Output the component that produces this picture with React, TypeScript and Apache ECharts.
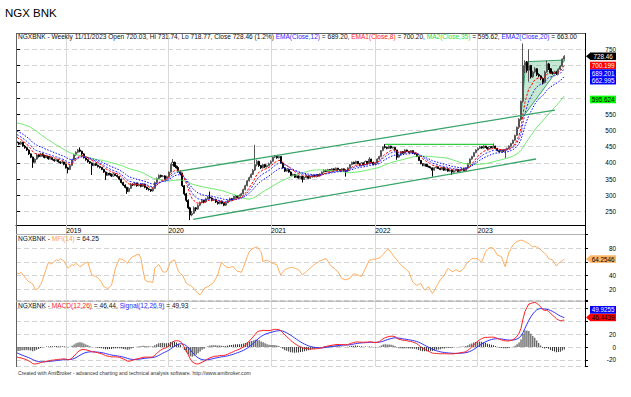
import React, { useEffect, useRef } from "react";
import * as echarts from "echarts";

const FONT = "'Liberation Sans', Arial, sans-serif";
const TITLE = "NGX BNK";
const TICKER = "NGXBNK";
const FIRST_BAR_UTC = Date.UTC(2018, 6, 13);
const RIGHT_PAD_BARS = 10;

// weekly closes before the first visible bar (warm-up for the averages)
const priorCloses = [470, 478, 485, 492, 495, 502, 498, 508, 505, 512, 510, 518, 522, 540, 562, 578, 585, 590, 575, 568, 562, 558, 552, 548, 540, 534, 538, 528, 520, 515, 508, 498, 502, 492, 485, 488, 478, 482, 472, 470];

// weekly bars [open, high, low, close]
const bars2018 = [
  [465, 468, 458, 462], [462, 465, 455, 458], [458, 467, 456, 464], [464, 465, 450, 452], [452, 455, 444, 447],
  [447, 449, 437, 440], [440, 442, 425, 428], [428, 430, 415, 418], [418, 420, 385, 402], [402, 414, 399, 412],
  [412, 428, 410, 425], [425, 427, 417, 420], [420, 431, 418, 428], [428, 430, 420, 423], [423, 425, 414, 417],
  [417, 423, 415, 420], [420, 421, 410, 413], [413, 418, 411, 416], [416, 417, 408, 411], [411, 412, 404, 407],
  [407, 413, 405, 410], [410, 411, 401, 404], [404, 405, 397, 400], [400, 406, 398, 403], [403, 404, 393, 396],
];
const bars2019 = [
  [396, 398, 383, 385], [385, 388, 368, 380], [380, 394, 378, 392], [392, 412, 390, 410], [410, 427, 408, 425],
  [425, 436, 422, 433], [433, 443, 430, 440], [440, 448, 433, 436], [436, 438, 425, 428], [428, 430, 414, 416],
  [416, 418, 407, 410], [410, 412, 401, 404], [404, 406, 397, 400], [400, 402, 363, 392], [392, 401, 390, 398],
  [398, 400, 391, 393], [393, 395, 386, 389], [389, 391, 383, 386], [386, 388, 378, 380], [380, 382, 370, 372],
  [372, 374, 348, 362], [362, 371, 360, 368], [368, 370, 362, 365], [365, 367, 357, 360], [360, 369, 358, 366],
  [366, 368, 360, 362], [362, 364, 355, 358], [358, 359, 347, 350], [350, 352, 337, 340], [340, 342, 329, 332],
  [332, 334, 322, 325], [325, 327, 305, 312], [312, 325, 310, 322], [322, 338, 320, 335], [335, 337, 329, 332],
  [332, 341, 330, 338], [338, 339, 327, 330], [330, 337, 328, 334], [334, 336, 325, 328], [328, 338, 326, 335],
  [335, 336, 322, 325], [325, 327, 317, 320], [320, 322, 315, 318], [318, 320, 311, 314], [314, 325, 312, 322],
  [322, 343, 320, 340], [340, 355, 338, 352], [352, 365, 350, 362], [362, 364, 355, 358], [358, 363, 356, 360],
  [360, 362, 349, 352], [352, 361, 350, 358],
];
const bars2020 = [
  [358, 374, 356, 372], [372, 397, 370, 395], [395, 412, 392, 402], [402, 404, 388, 390], [390, 392, 383, 385],
  [385, 387, 373, 375], [375, 377, 362, 368], [368, 370, 326, 330], [330, 332, 300, 305], [305, 308, 280, 285],
  [285, 288, 258, 262], [262, 265, 224, 240], [240, 252, 236, 245], [245, 266, 243, 262], [262, 264, 252, 258],
  [258, 273, 256, 270], [270, 281, 267, 278], [278, 289, 276, 285], [285, 287, 276, 280], [280, 293, 278, 290],
  [290, 299, 288, 295], [295, 312, 290, 292], [292, 294, 282, 285], [285, 291, 283, 288], [288, 290, 277, 280],
  [280, 282, 272, 275], [275, 285, 273, 282], [282, 284, 273, 276], [276, 278, 267, 270], [270, 281, 268, 278],
  [278, 287, 276, 284], [284, 293, 282, 290], [290, 292, 285, 288], [288, 298, 286, 295], [295, 301, 293, 298],
  [298, 300, 291, 294], [294, 303, 292, 300], [300, 308, 298, 305], [305, 321, 303, 318], [318, 333, 316, 330],
  [330, 348, 328, 345], [345, 358, 343, 355], [355, 368, 353, 365], [365, 381, 363, 378], [378, 456, 375, 395],
  [395, 410, 390, 405], [405, 407, 388, 392], [392, 394, 382, 385], [385, 398, 383, 395], [395, 397, 385, 388],
  [388, 395, 386, 392], [392, 401, 390, 398],
];
const bars2021 = [
  [398, 408, 396, 405], [405, 420, 403, 418], [418, 424, 415, 420], [420, 422, 413, 416], [416, 423, 414, 420],
  [420, 421, 398, 400], [400, 402, 383, 385], [385, 387, 372, 375], [375, 383, 373, 380], [380, 382, 370, 372],
  [372, 374, 360, 362], [362, 367, 360, 365], [365, 366, 354, 356], [356, 362, 354, 360], [360, 361, 352, 354],
  [354, 360, 352, 358], [358, 359, 340, 350], [350, 357, 348, 355], [355, 362, 353, 360], [360, 361, 351, 353],
  [353, 359, 351, 357], [357, 364, 355, 362], [362, 363, 356, 358], [358, 366, 356, 364], [364, 365, 358, 360],
  [360, 368, 358, 366], [366, 374, 364, 372], [372, 380, 370, 378], [378, 379, 372, 374], [374, 382, 372, 380],
  [380, 381, 374, 376], [376, 384, 374, 382], [382, 383, 376, 378], [378, 386, 376, 384], [384, 385, 378, 380],
  [380, 381, 374, 376], [376, 384, 374, 382], [382, 383, 376, 378], [378, 380, 358, 375], [375, 387, 373, 385],
  [385, 397, 383, 395], [395, 404, 393, 402], [402, 404, 396, 398], [398, 407, 396, 405], [405, 406, 396, 398],
  [398, 400, 390, 392], [392, 402, 390, 400], [400, 401, 393, 395], [395, 407, 393, 405], [405, 406, 396, 398],
  [398, 418, 396, 412], [412, 413, 400, 402], [402, 404, 394, 396],
];
const bars2022 = [
  [396, 402, 394, 400], [400, 414, 398, 412], [412, 422, 410, 420], [420, 440, 418, 438], [438, 452, 436, 450],
  [450, 458, 445, 448], [448, 450, 442, 445], [445, 454, 443, 452], [452, 453, 444, 446], [446, 450, 444, 448],
  [448, 449, 438, 440], [440, 441, 410, 418], [418, 427, 416, 425], [425, 437, 423, 435], [435, 436, 428, 430],
  [430, 442, 428, 440], [440, 441, 434, 436], [436, 437, 430, 432], [432, 440, 430, 438], [438, 439, 428, 430],
  [430, 431, 426, 428], [428, 429, 418, 420], [420, 421, 406, 408], [408, 409, 396, 398], [398, 399, 390, 392],
  [392, 398, 390, 396], [396, 397, 388, 390], [390, 391, 386, 388], [388, 389, 383, 385], [385, 386, 358, 378],
  [378, 387, 376, 385], [385, 390, 383, 388], [388, 389, 381, 383], [383, 384, 378, 380], [380, 388, 378, 386],
  [386, 387, 376, 378], [378, 384, 376, 382], [382, 383, 373, 375], [375, 380, 373, 378], [378, 379, 363, 372],
  [372, 378, 370, 376], [376, 382, 374, 380], [380, 381, 372, 374], [374, 380, 372, 378], [378, 384, 376, 382],
  [382, 383, 374, 376], [376, 387, 374, 385], [385, 400, 383, 398], [398, 414, 396, 412], [412, 422, 410, 420],
  [420, 434, 418, 432], [432, 442, 430, 440],
];
const bars2023 = [
  [440, 448, 438, 445], [445, 453, 443, 450], [450, 451, 444, 446], [446, 455, 444, 452], [452, 453, 446, 448],
  [448, 449, 441, 444], [444, 452, 442, 450], [450, 451, 446, 448], [448, 460, 446, 452], [452, 453, 443, 445],
  [445, 446, 436, 438], [438, 439, 432, 435], [435, 442, 433, 440], [440, 441, 434, 436], [436, 444, 415, 442],
  [442, 447, 440, 445], [445, 454, 443, 452], [452, 462, 450, 460], [460, 472, 458, 470], [470, 487, 468, 485],
  [485, 512, 483, 510], [510, 538, 505, 535], [535, 592, 530, 590], [590, 768, 585, 700], [700, 716, 676, 710],
  [710, 714, 678, 685], [685, 750, 650, 700], [700, 702, 660, 665], [665, 684, 662, 680], [680, 695, 676, 690],
  [690, 692, 668, 672], [672, 676, 664, 668], [668, 670, 655, 660], [660, 663, 642, 648], [648, 684, 645, 680],
  [680, 716, 678, 705], [705, 708, 686, 690], [690, 692, 674, 678], [678, 682, 672, 676], [676, 684, 674, 680],
  [680, 682, 671, 675], [675, 691, 673, 688], [688, 701, 686, 698], [698, 722, 696, 720.03], [720.03, 731.74, 718.77, 728.46],
];

// MFI(14) per week
const mfi2018 = [44, 43, 45, 41, 38, 34, 31, 30, 28, 21, 20, 22, 27, 34, 43, 51, 60, 57, 58, 61, 63, 62, 65, 63, 61];
const mfi2019 = [55, 51, 54, 56, 55, 58, 56, 53, 55, 57, 59, 60, 50, 41, 40, 39, 37, 34, 30, 24, 23, 21, 23, 26, 38, 51, 58, 65, 64, 63, 61, 58, 62, 66, 68, 69, 71, 71, 65, 48, 34, 32, 31, 31, 30, 51, 54, 56, 52, 46, 45, 46];
const mfi2020 = [53, 60, 62, 63, 55, 46, 43, 41, 35, 29, 27, 26, 24, 20, 17, 14, 12, 16, 21, 23, 24, 26, 28, 31, 36, 41, 52, 60, 56, 53, 52, 52, 53, 53, 49, 46, 46, 45, 52, 60, 68, 75, 78, 80, 81, 82, 78, 75, 60, 62, 63, 61];
const mfi2021 = [59, 58, 57, 56, 48, 41, 45, 49, 50, 51, 52, 52, 51, 50, 49, 45, 41, 44, 46, 49, 51, 54, 56, 58, 60, 62, 63, 64, 65, 61, 56, 53, 51, 48, 46, 41, 36, 35, 34, 35, 36, 40, 43, 42, 41, 40, 39, 45, 51, 57, 63, 63, 64];
const mfi2022 = [64, 65, 66, 68, 71, 75, 78, 78, 74, 70, 66, 63, 59, 56, 53, 51, 48, 46, 38, 31, 28, 26, 27, 29, 24, 19, 21, 24, 19, 14, 18, 24, 29, 34, 37, 41, 46, 51, 48, 46, 47, 49, 47, 46, 48, 51, 56, 60, 62, 65, 65, 65];
const mfi2023 = [65, 62, 60, 67, 75, 78, 81, 81, 80, 75, 70, 69, 68, 60, 53, 65, 75, 80, 85, 88, 90, 91, 92, 91, 90, 88, 87, 84, 82, 83, 82, 80, 78, 75, 73, 70, 65, 64, 63, 58, 54, 58, 60, 62, 64.25];

// hand-drawn studies: [bar index, price]
const upperChannel = [[81.1, 373.2], [273.2, 563]];
const lowerChannel = [[89.5, 226.6], [263.6, 412.3]];
const resistance2022 = [[186.9, 457.5], [241.9, 457.5]];
const wedge = [[258.5, 711.8], [255.8, 532], [278.3, 717]];

// right-axis value tags
const priceTags = [
  { v: 728.46, t: "728.46", bg: "#000000", fg: "#ffffff", arrow: true },
  { v: 700.199, t: "700.199", bg: "#ff0000", fg: "#ffffff", arrow: false },
  { v: 689.201, t: "689.201", bg: "#0000ff", fg: "#ffffff", arrow: false },
  { v: 662.995, t: "662.995", bg: "#0000ff", fg: "#ffffff", arrow: false },
  { v: 595.624, t: "595.624", bg: "#00ff00", fg: "#000000", arrow: false },
];
const mfiTags = [{ v: 64.2546, t: "64.2546", bg: "#ffb566", fg: "#000000", arrow: true }];
const macdTags = [
  { v: 46.4439, t: "46.4439", bg: "#ff0000", fg: "#000000", arrow: true },
  { v: 49.9255, t: "49.9255", bg: "#0000ff", fg: "#ffffff", arrow: false },
];

const mainHeader = [
  ["k", `${TICKER} - Weekly 11/11/2023 Open 720.03, Hi 731.74, Lo 718.77, Close 728.46 (1.2%) `],
  ["b", "EMA(Close,12)"], ["k", " = 689.20, "],
  ["r", "EMA1(Close,8)"], ["k", " = 700.20, "],
  ["g", "MA2(Close,35)"], ["k", " = 595.62, "],
  ["b", "EMA2(Close,20)"], ["k", " = 663.00"],
];
const mfiHeader = [["k", `${TICKER} - `], ["o", "MFI(14)"], ["k", " = 64.25"]];
const macdHeader = [["k", `${TICKER} - `], ["r", "MACD(12,26)"], ["k", " = 46.44, "], ["b", "Signal(12,26,9)"], ["k", " = 49.93"]];
const footer = "Created with AmiBroker - advanced charting and technical analysis software. http://www.amibroker.com";

// ---------- derived ----------
const bars = [...bars2018, ...bars2019, ...bars2020, ...bars2021, ...bars2022, ...bars2023];
const mfi = [...mfi2018, ...mfi2019, ...mfi2020, ...mfi2021, ...mfi2022, ...mfi2023];
const N = bars.length;
const NC = N + RIGHT_PAD_BARS;
const categories = Array.from({ length: NC }, (_, i) => {
  if (i >= N) return `pad${i}`;
  return new Date(FIRST_BAR_UTC + i * 7 * 86400000).toISOString().slice(0, 10);
});
const yearStarts = new Set<number>();
for (let i = 1; i < N; i++) if (categories[i].slice(0, 4) !== categories[i - 1].slice(0, 4)) yearStarts.add(i);

function ema(vals: number[], n: number) {
  const k = 2 / (n + 1);
  const out: number[] = [];
  let p = vals[0];
  vals.forEach((v, i) => { p = i === 0 ? v : v * k + p * (1 - k); out.push(p); });
  return out;
}
function sma(vals: number[], n: number) {
  return vals.map((_, i) => {
    const s = vals.slice(Math.max(0, i - n + 1), i + 1);
    return s.reduce((a, b) => a + b, 0) / s.length;
  });
}
const closes = bars.map((b) => b[3]);
const full = [...priorCloses, ...closes];
const P = priorCloses.length;
const ema8 = ema(full, 8).slice(P);
const ema12f = ema(full, 12);
const ema26f = ema(full, 26);
const ema12 = ema12f.slice(P);
const ema20 = ema(full, 20).slice(P);
const ma35 = sma(full, 35).slice(P);
const macdF = ema12f.map((v, i) => v - ema26f[i]);
const sigF = ema(macdF, 9);
const macd = macdF.slice(P);
const signal = sigF.slice(P);
const hist = macd.map((v, i) => v - signal[i]);

const L = 16, R = 585, W = R - L;
const TAG_H = 7.6;
const AXIS_FS = 6.4;

function richText(parts: string[][]) {
  return parts.map(([s, t]) => `{${s}|${t}}`).join("");
}
const RICH = {
  k: { fill: "#111111" },
  b: { fill: "#2a2aff" },
  r: { fill: "#ff1a1a" },
  g: { fill: "#33dd33" },
  o: { fill: "#ffa040" },
};

function placeBoxes(targets: number[], H: number) {
  const placed: number[] = [];
  targets.forEach((t) => {
    const free = (y: number) => placed.every((p) => Math.abs(p - y) >= H - 0.01);
    let best = t;
    if (!free(t)) {
      const c = placed.flatMap((p) => [p - H, p + H]).filter(free);
      c.sort((a, b) => Math.abs(a - t) - Math.abs(b - t));
      best = c.length ? c[0] : t;
    }
    placed.push(best);
  });
  return placed;
}

function tagEls(y: number, tag: any) {
  const x0 = 590, w = 26, h = TAG_H;
  const els: any[] = [
    { type: "rect", shape: { x: x0, y: y - h / 2, width: w, height: h }, style: { fill: tag.bg }, z: 100, silent: true },
    {
      type: "text", x: x0 + w / 2, y, z: 101, silent: true,
      style: { text: tag.t, fill: tag.fg, fontSize: 6.3, fontFamily: FONT, align: "center", textAlign: "center", verticalAlign: "middle", textVerticalAlign: "middle" },
    },
  ];
  if (tag.arrow) els.push({ type: "polygon", shape: { points: [[586, y], [x0 + 0.5, y - h / 2], [x0 + 0.5, y + h / 2]] }, style: { fill: tag.bg }, z: 100, silent: true });
  return els;
}

function hline(y: number, color: string, x1 = L, x2 = R) {
  return { type: "line", shape: { x1, y1: y, x2, y2: y }, style: { stroke: color, lineWidth: 1 }, z: 90, silent: true };
}
function vline(x: number, y1: number, y2: number, color: string) {
  return { type: "line", shape: { x1: x, y1, x2: x, y2 }, style: { stroke: color, lineWidth: 1 }, z: 90, silent: true };
}
function headerText(x: number, y: number, text: string, size: number) {
  return {
    type: "text", x, y, z: 95, silent: true,
    style: { text, rich: RICH, fill: "#111", fontSize: size, fontFamily: FONT, verticalAlign: "middle", textVerticalAlign: "middle" },
  };
}

const dashed = { color: "#d2d2d2", type: [5, 3], width: 1 };
const isYearStart = (i: number) => yearStarts.has(i);
const vgrid = { show: true, interval: isYearStart, alignWithLabel: true, lineStyle: { color: "#d9d9d9", width: 1 } };

const labelRules = [
  (v: number) => v % 50 === 0 && v >= 250 && v <= 750,
  (v: number) => v % 20 === 0 && v >= 20 && v <= 80,
  (v: number) => v % 20 === 0 && v >= -20 && v <= 60,
];

function makeFormatter(axis: number, hidden: Set<number>) {
  return (v: number) => (labelRules[axis](v) && !hidden.has(v) ? String(v) : "");
}

function yAxisOpt(grid: number, min: number, max: number, split: number) {
  return {
    type: "value", gridIndex: grid, position: "right", min, max, splitNumber: split,
    axisLine: { show: false },
    axisTick: { show: true, length: 3, lineStyle: { color: "#000" } },
    axisLabel: { fontSize: AXIS_FS, color: "#000", fontFamily: FONT, align: "right", margin: 31, formatter: makeFormatter(grid, new Set()) },
    splitLine: { show: true, lineStyle: dashed },
  };
}

function buildOption() {
  const catAxis = (grid: number, main: boolean) => ({
    type: "category", gridIndex: grid, data: categories, boundaryGap: true,
    axisLine: { show: main, lineStyle: { color: "#000", width: 1 } },
    axisTick: main
      ? { show: true, interval: isYearStart, alignWithLabel: true, length: 9, lineStyle: { color: "#c8c8c8", width: 1 } }
      : { show: false },
    axisLabel: main
      ? { show: true, interval: isYearStart, formatter: (v: string) => v.slice(0, 4), align: "left", margin: 1.5, fontSize: 6.8, color: "#000", fontFamily: FONT }
      : { show: false },
    splitLine: vgrid,
  });
  return {
    animation: false,
    backgroundColor: "#ffffff",
    textStyle: { fontFamily: FONT },
    grid: [
      { left: L, top: 33.06, width: W, height: 191.96, outerBoundsMode: "none" },
      { left: L, top: 234.6, width: W, height: 66.1, outerBoundsMode: "none" },
      { left: L, top: 301.7, width: W, height: 65, outerBoundsMode: "none" },
    ],
    xAxis: [
      catAxis(0, true),
      catAxis(1, false),
      catAxis(2, false),
      { type: "value", gridIndex: 0, min: -0.5, max: NC - 0.5, show: false },
    ],
    yAxis: [
      yAxisOpt(0, 209, 800, 12),
      yAxisOpt(1, 3.5, 100, 5),
      yAxisOpt(2, -30.6, 71, 5),
    ],
    series: [
      {
        type: "custom", coordinateSystem: "cartesian2d", xAxisIndex: 3, yAxisIndex: 0, silent: true,
        data: [wedge[0]],
        renderItem: (_p: any, api: any) => ({
          type: "polygon",
          shape: { points: wedge.map((pt) => api.coord(pt)) },
          style: { fill: "rgba(60,179,113,0.30)", stroke: "#36a468", lineWidth: 1 },
        }),
      },
      {
        type: "candlestick", xAxisIndex: 0, yAxisIndex: 0, silent: true, barWidth: 1.6,
        data: bars.map(([o, h, l, c]) => [o, c, l, h]),
        itemStyle: { color: "#ffffff", borderColor: "#555555", color0: "#000000", borderColor0: "#000000", borderWidth: 1 },
      },
      { type: "line", xAxisIndex: 0, yAxisIndex: 0, data: ma35, showSymbol: false, silent: true, lineStyle: { color: "#5de85d", width: 0.9 } },
      { type: "line", xAxisIndex: 0, yAxisIndex: 0, data: ema20, showSymbol: false, silent: true, lineStyle: { color: "#0000ff", width: 1, type: [1.5, 1.5] } },
      { type: "line", xAxisIndex: 0, yAxisIndex: 0, data: ema12, showSymbol: false, silent: true, lineStyle: { color: "#2a2aff", width: 1, type: [2, 1.5] } },
      { type: "line", xAxisIndex: 0, yAxisIndex: 0, data: ema8, showSymbol: false, silent: true, lineStyle: { color: "#ff0000", width: 1, type: [2.5, 1.5] } },
      { type: "line", xAxisIndex: 3, yAxisIndex: 0, data: upperChannel, showSymbol: false, silent: true, lineStyle: { color: "#36a468", width: 1.3 } },
      { type: "line", xAxisIndex: 3, yAxisIndex: 0, data: lowerChannel, showSymbol: false, silent: true, lineStyle: { color: "#36a468", width: 1.3 } },
      { type: "line", xAxisIndex: 3, yAxisIndex: 0, data: resistance2022, showSymbol: false, silent: true, lineStyle: { color: "#2ecc40", width: 1.3 } },
      { type: "line", xAxisIndex: 1, yAxisIndex: 1, data: mfi, showSymbol: false, silent: true, lineStyle: { color: "#ffac5c", width: 1 } },
      { type: "bar", xAxisIndex: 2, yAxisIndex: 2, data: hist, barWidth: 1, silent: true, itemStyle: { color: "#333333" } },
      { type: "line", xAxisIndex: 2, yAxisIndex: 2, data: signal, showSymbol: false, silent: true, lineStyle: { color: "#3030ff", width: 1 } },
      { type: "line", xAxisIndex: 2, yAxisIndex: 2, data: macd, showSymbol: false, silent: true, lineStyle: { color: "#ff2020", width: 1 } },
    ],
  };
}

function buildOverlay(chart: any) {
  const els: any[] = [];
  els.push({ type: "rect", shape: { x: 0, y: 0, width: 631, height: 397 }, style: { fill: "#ffffff" }, z: -10, silent: true });
  els.push(hline(33.5, "#606060"));
  els.push(vline(16.5, 33, 367, "#606060"));
  els.push(vline(585.5, 33, 367, "#000000"));
  els.push(hline(234.5, "#b0b0b0"));
  els.push(hline(301.2, "#b0b0b0"));
  els.push({ type: "text", x: 5, y: 13, z: 95, silent: true, style: { text: TITLE, fill: "#000", fontSize: 11.5, fontFamily: FONT, verticalAlign: "middle", textVerticalAlign: "middle" } });
  els.push(headerText(18, 36.5, richText(mainHeader), 6.55));
  els.push(headerText(18, 238.8, richText(mfiHeader), 6.6));
  els.push(headerText(18, 305.8, richText(macdHeader), 6.6));
  els.push({ type: "text", x: 18, y: 372.5, z: 95, silent: true, style: { text: footer, fill: "#333", fontSize: 5.1, fontFamily: FONT, verticalAlign: "middle", textVerticalAlign: "middle" } });

  const groups = [
    { axis: 0, tags: priceTags, ticks: [250, 300, 350, 400, 450, 500, 550, 600, 650, 700, 750] },
    { axis: 1, tags: mfiTags, ticks: [20, 40, 60, 80] },
    { axis: 2, tags: macdTags, ticks: [-20, 0, 20, 40, 60] },
  ];
  const yAxisUpdates: any[] = [];
  groups.forEach(({ axis, tags, ticks }) => {
    const targets = tags.map((t) => chart.convertToPixel({ yAxisIndex: axis }, t.v) as number);
    const ys = placeBoxes(targets, TAG_H);
    tags.forEach((t, i) => els.push(...tagEls(ys[i], t)));
    const hidden = new Set<number>();
    ticks.forEach((v) => {
      const py = chart.convertToPixel({ yAxisIndex: axis }, v) as number;
      if (ys.some((y) => Math.abs(py - y) < 6.9)) hidden.add(v);
    });
    yAxisUpdates.push({ axisLabel: { formatter: makeFormatter(axis, hidden) } });
  });
  return { graphic: els, yAxis: yAxisUpdates };
}

export default function App() {
  const ref = useRef<HTMLDivElement>(null);
  useEffect(() => {
    const chart = echarts.init(ref.current as HTMLDivElement, null, { renderer: "svg" });
    chart.setOption(buildOption() as any);
    chart.setOption(buildOverlay(chart) as any);
    return () => chart.dispose();
  }, []);
  return <div ref={ref} style={{ position: "absolute", left: 0, top: 0, width: 631, height: 397, background: "#fff" }} />;
}
